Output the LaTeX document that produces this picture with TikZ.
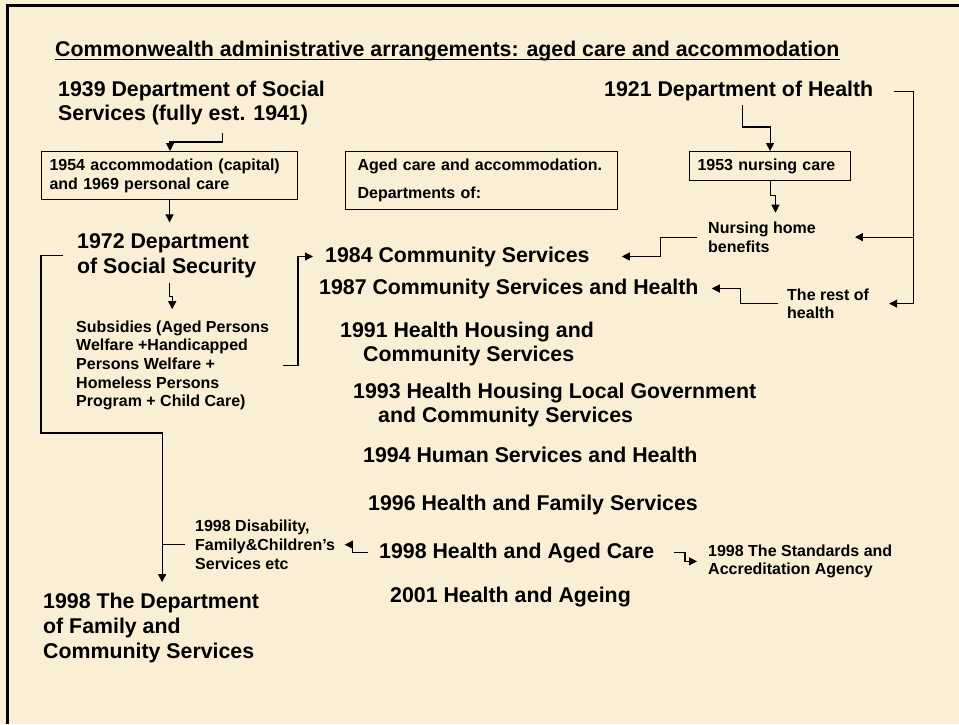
\documentclass[tikz,border=0pt]{standalone}
\usepackage{fontspec}
\setmainfont{Liberation Sans}
\usetikzlibrary{arrows.meta}

\definecolor{parchment}{RGB}{250,238,213}

\newcommand\bigtxt{\fontsize{21.33}{24.5}\selectfont\bfseries}
\newcommand\smalltxt{\fontsize{16}{18.7}\selectfont\bfseries}

% multi-line text nodes are anchored at the baseline of their last line
\tikzset{
  heading/.style={font=\bigtxt, inner sep=0pt, align=left, anchor=base west},
  label/.style={font=\smalltxt, inner sep=0pt, align=left, anchor=base west},
  infobox/.style={draw=black, line width=1.1pt, font=\smalltxt, align=left,
                  inner ysep=0pt, anchor=north west},
  conn/.style={line width=1.1pt, -{Triangle[length=8pt,width=8pt]}},
  joint/.style={line width=1.1pt},
}

\begin{document}
\begin{tikzpicture}[x=1pt,y=-1pt]
  % page background and frame
  \fill[parchment] (0,0) rectangle (959,724);
  \useasboundingbox (0,0) rectangle (959,724);
  \draw[line width=2.7pt] (7.3,724) -- (7.3,5.7) -- (959,5.7);

  % title
  \node[heading] (title) at (55,56)
    {Commonwealth administrative arrangements: aged care and accommodation};
  \draw[line width=1.6pt] ([yshift=-3.5pt]title.base west) -- ([yshift=-3.5pt]title.base east);

  % left branch: social services
  \node[heading] (dss39) at (58,120.7) {1939 Department of Social\\Services (fully est. 1941)};
  \node[infobox, text width=240pt, inner xsep=8pt, minimum height=48pt] (accom) at (41,151)
    {1954 accommodation (capital)\\and 1969 personal care};
  \node[heading] (dss72) at (77,273) {1972 Department\\of Social Security};
  \node[label] (subs) at (76,406.8)
    {Subsidies (Aged Persons\\Welfare +Handicapped\\Persons Welfare +\\Homeless Persons\\Program + Child Care)};
  \node[label] (dis98) at (195,569.1) {1998 Disability,\\Family\&Children’s\\Services etc};
  \node[heading, font=\fontsize{21.33}{25}\selectfont\bfseries] (fcs98) at (43,658.3)
    {1998 The Department\\of Family and\\Community Services};

  % middle legend box
  \node[infobox, text width=248pt, inner xsep=12pt, minimum height=58pt,
        font=\fontsize{16}{28}\selectfont\bfseries] (legend) at (345,151)
    {Aged care and accommodation.\\Departments of:};

  % right branch: health
  \node[heading] (h21) at (604,96.7) {1921 Department of Health};
  \node[infobox, text width=145pt, inner xsep=8pt, minimum height=29pt] (n53) at (689,151)
    {1953 nursing care};
  \node[label] (nhb) at (708,252.2) {Nursing home\\benefits};
  \node[label] (rest) at (787,318.7) {The rest of\\health};

  % departments in succession
  \node[heading] (c84) at (325,262) {1984 Community Services};
  \node[heading] (c87) at (319,294) {1987 Community Services and Health};
  \node[heading] (h91) at (340,361.5) {1991 Health Housing and\\\hspace*{23pt}Community Services};
  \node[heading] (h93) at (353,422.5) {1993 Health Housing Local Government\\\hspace*{25pt}and Community Services};
  \node[heading] (hs94) at (363,462) {1994 Human Services and Health};
  \node[heading] (hf96) at (368,510) {1996 Health and Family Services};
  \node[heading] (hac98) at (379,558) {1998 Health and Aged Care};
  \node[heading] (ha01) at (390,602) {2001 Health and Ageing};
  \node[label] (std98) at (708,574.8) {1998 The Standards and\\Accreditation Agency};

  % bend points
  \coordinate (b39) at (170,142);
  \coordinate (b72) at (41,433);
  \coordinate (bsub) at (298,0);
  \coordinate (s72) at ([xshift=5.5pt]dss72.south);

  % connectors, left branch
  \draw[conn] ([xshift=30.5pt,yshift=-8pt]dss39.south) |- (b39) -- (b39 |- accom.north);
  \draw[conn] (accom.south) -- ([yshift=11pt]dss72.north -| accom.south);
  \draw[conn] ([xshift=2.5pt,yshift=-5.5pt]dss72.south) -- ++(0,13) -| ([yshift=11pt]subs.north -| s72);
  \draw[conn] ([xshift=14pt]subs.east) -| (bsub |- c84.west) -- ([xshift=-12pt]c84.west);
  \draw[conn] ([xshift=-14pt]dss72.west) -| (b72) -| ([xshift=11pt,yshift=10.5pt]fcs98.north);
  \draw[joint] ([xshift=-10pt]dis98.west) -- ([xshift=-33pt]dis98.west);
  \draw[conn] ([xshift=-11pt]hac98.west) -| ([xshift=17.5pt]dis98.east) -- ([xshift=9.5pt]dis98.east);
  \draw[conn] ([xshift=20pt]hac98.east) -| ([xshift=-23pt]std98.west) -- ([xshift=-11pt]std98.west);

  % connectors, right branch
  \draw[conn] ([xshift=4pt,yshift=-4pt]h21.south) |- ([yshift=24pt]n53.north) -- (n53.north);
  \draw[conn] (n53.south) -- ++(0,14) -| ([xshift=13.5pt,yshift=9pt]nhb.north);
  \draw[conn] ([xshift=-11pt]nhb.west) -| ([xshift=71pt]c84.east) -- ([xshift=32pt]c84.east);
  \draw[conn] ([xshift=21pt]h21.east) -| ([xshift=44pt]rest.east) -- ([xshift=20pt]rest.east);
  \draw[conn] ([xshift=98pt]nhb.east) -- ([xshift=39pt]nhb.east);
  \draw[conn] ([xshift=-9pt]rest.west) -| ([xshift=42pt]c87.east) -- ([xshift=13pt]c87.east);
\end{tikzpicture}
\end{document}
